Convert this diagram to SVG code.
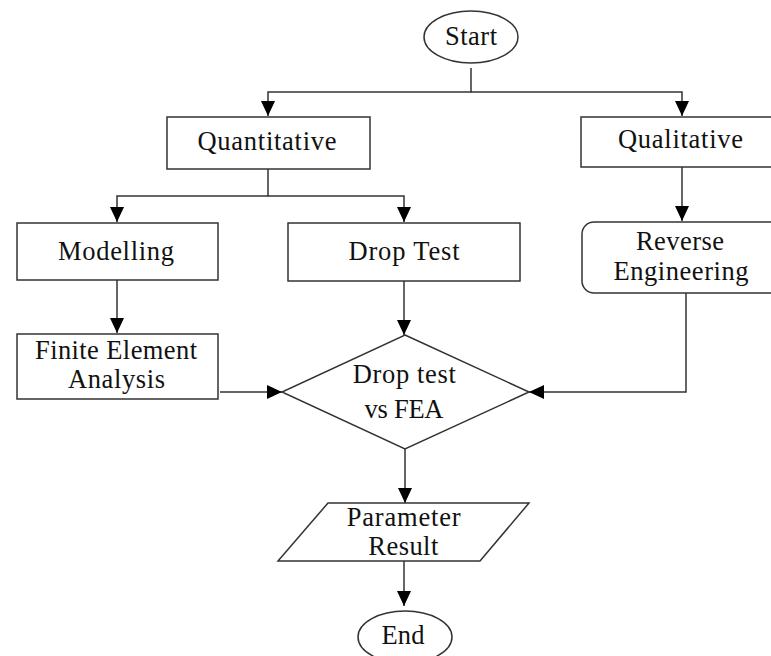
<svg xmlns="http://www.w3.org/2000/svg" width="771" height="656" viewBox="0 0 771 656">
<style>
.shape{fill:#fff;stroke:#333;stroke-width:1.5}
.conn{fill:none;stroke:#333;stroke-width:1.5}
text{font-family:"Liberation Serif","Times New Roman",serif;font-size:26.5px;fill:#111;text-anchor:middle}
</style>
<defs>
<marker id="arr" markerUnits="userSpaceOnUse" markerWidth="15" markerHeight="14" refX="15" refY="7" orient="auto">
<path d="M0,0 L15,7 L0,14 z" fill="#000"/>
</marker>
</defs>
<rect width="771" height="656" fill="#fff"/>
<g id="connectors">
<path class="conn" d="M471,68 V92 H268 V116" marker-end="url(#arr)"/>
<path class="conn" d="M471,92 H682 V116" marker-end="url(#arr)"/>
<path class="conn" d="M268,169 V196 H117 V222" marker-end="url(#arr)"/>
<path class="conn" d="M268,196 H404 V222" marker-end="url(#arr)"/>
<path class="conn" d="M682,167 V221" marker-end="url(#arr)"/>
<path class="conn" d="M117,280 V333" marker-end="url(#arr)"/>
<path class="conn" d="M404,281 V335" marker-end="url(#arr)"/>
<path class="conn" d="M220,392 H282" marker-end="url(#arr)"/>
<path class="conn" d="M686,293 V392 H529" marker-end="url(#arr)"/>
<path class="conn" d="M405,449 V503" marker-end="url(#arr)"/>
<path class="conn" d="M404,561 V606" marker-end="url(#arr)"/>
</g>
<g id="start">
<ellipse class="shape" cx="471" cy="37" rx="47" ry="26"/>
<text x="471" y="45" textLength="52">Start</text>
</g>
<g id="quantitative">
<rect class="shape" x="167" y="117" width="203" height="52"/>
<text x="267" y="150" textLength="139">Quantitative</text>
</g>
<g id="qualitative">
<rect class="shape" x="581" y="117" width="200" height="50"/>
<text x="680.5" y="148" textLength="125">Qualitative</text>
</g>
<g id="modelling">
<rect class="shape" x="17" y="223" width="201" height="57"/>
<text x="116" y="260" textLength="116">Modelling</text>
</g>
<g id="droptest">
<rect class="shape" x="288" y="223" width="232" height="58"/>
<text x="404" y="260" textLength="111">Drop Test</text>
</g>
<g id="reverse">
<rect class="shape" x="582" y="222" width="200" height="71" rx="12" ry="12"/>
<text x="680" y="250" textLength="88">Reverse</text>
<text x="681" y="280" textLength="135">Engineering</text>
</g>
<g id="fea">
<rect class="shape" x="17" y="334" width="201" height="65"/>
<text x="116" y="359" textLength="162">Finite Element</text>
<text x="116.5" y="388" textLength="97">Analysis</text>
</g>
<g id="decision">
<polygon class="shape" points="405,335 529,392 405,449 282,392"/>
<text x="404.3" y="383" textLength="103">Drop test</text>
<text x="404" y="418" textLength="79">vs FEA</text>
</g>
<g id="result">
<polygon class="shape" points="328,503 529,503 480,561 278,561"/>
<text x="403.7" y="526" textLength="114">Parameter</text>
<text x="403.3" y="555" textLength="70">Result</text>
</g>
<g id="end">
<ellipse class="shape" cx="405" cy="637" rx="47" ry="26"/>
<text x="403" y="644" textLength="43">End</text>
</g>
</svg>
